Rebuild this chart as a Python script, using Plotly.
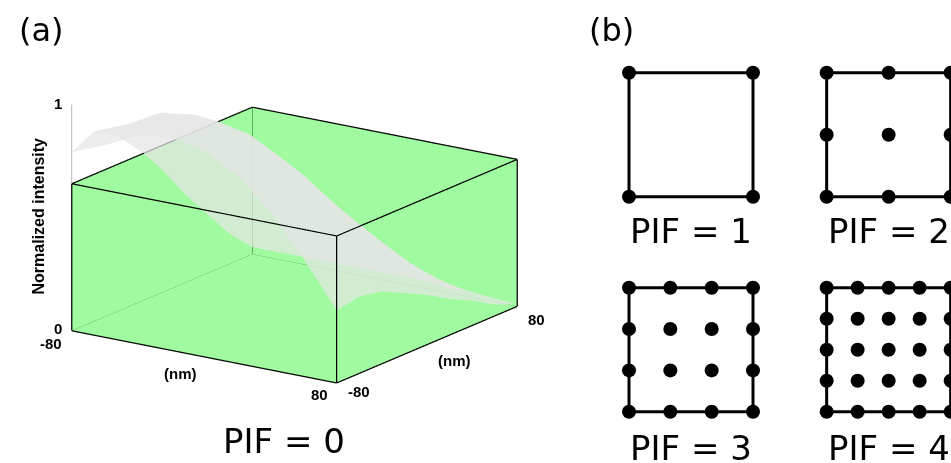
import plotly.graph_objects as go

# ---- panel (a): intensity over one 160 nm pixel ----
x_nm = [-80, -60, -40, -20, 0, 20, 40, 60, 80]
y_nm = [-80, -60, -40, -20, 0, 20, 40, 60, 80]
# normalized intensity; rows follow y_nm, columns follow x_nm
intensity = [
    [0.79, 0.85, 0.92, 0.94, 0.91, 0.83, 0.70, 0.52, 0.32],
    [0.84, 0.90, 0.98, 1.00, 0.97, 0.88, 0.74, 0.55, 0.34],
    [0.78, 0.84, 0.91, 0.93, 0.90, 0.82, 0.69, 0.51, 0.32],
    [0.67, 0.72, 0.78, 0.80, 0.78, 0.70, 0.59, 0.44, 0.27],
    [0.54, 0.58, 0.63, 0.64, 0.62, 0.56, 0.47, 0.35, 0.22],
    [0.39, 0.42, 0.46, 0.47, 0.46, 0.41, 0.35, 0.26, 0.16],
    [0.26, 0.28, 0.30, 0.31, 0.30, 0.27, 0.23, 0.17, 0.11],
    [0.13, 0.14, 0.16, 0.16, 0.16, 0.14, 0.12, 0.09, 0.05],
    [0.03, 0.03, 0.03, 0.03, 0.03, 0.03, 0.02, 0.02, 0.01],
]
box_top = 0.65          # height of the green box
z_ticks = [0, 1]
xy_ticks = [-80, 80]

# ---- panel (b): sampling grids per interpolation factor ----
pif_levels = [1, 2, 3, 4]
pif_cells = [(0, 0), (1, 0), (0, 1), (1, 1)]   # (column, row) of each sketch

GREEN = "#a0fba0"
DARK_GREEN = "#0f5a0f"
TICK = dict(family="Liberation Sans, Arial", size=15, color="black", weight="bold")
TITLE = dict(TICK, size=16)
LABEL = dict(family="DejaVu Sans, Verdana", size=34, color="black")

fig = go.Figure()

# green box: the three far faces, drawn opaque
lo, hi = x_nm[0], x_nm[-1]
ylo, yhi = y_nm[0], y_nm[-1]
cx = [lo, hi, lo, hi, lo, hi, lo, hi]
cy = [ylo, ylo, yhi, yhi, ylo, ylo, yhi, yhi]
cz = [0, 0, 0, 0, box_top, box_top, box_top, box_top]
fig.add_trace(go.Mesh3d(
    x=cx, y=cy, z=cz,
    i=[0, 0, 2, 2, 0, 0], j=[2, 6, 3, 7, 1, 3], k=[6, 4, 7, 6, 3, 2],
    color=GREEN, opacity=1, flatshading=True,
    lighting=dict(ambient=1, diffuse=0, specular=0, roughness=1, fresnel=0),
    hoverinfo="skip", showscale=False,
))

# intensity sheet
fig.add_trace(go.Surface(
    x=x_nm, y=y_nm, z=intensity,
    colorscale=[[0, "rgb(255,255,255)"], [1, "rgb(255,255,255)"]],
    showscale=False, opacity=0.72,
    lighting=dict(ambient=0.9, diffuse=0.25, specular=0.05, roughness=0.9, fresnel=0),
    lightposition=dict(x=-1000, y=-3000, z=6000),
    hoverinfo="skip",
))


def edge_path(pairs):
    xs, ys, zs = [], [], []
    for a, b in pairs:
        xs += [cx[a], cx[b], None]
        ys += [cy[a], cy[b], None]
        zs += [cz[a], cz[b], None]
    return xs, ys, zs


hidden = [(0, 2), (2, 3), (2, 6)]
visible = [(0, 1), (1, 3), (0, 4), (1, 5), (3, 7), (4, 5), (5, 7), (6, 7), (4, 6)]
for pairs, col in ((hidden, DARK_GREEN), (visible, "black")):
    ex, ey, ez = edge_path(pairs)
    fig.add_trace(go.Scatter3d(x=ex, y=ey, z=ez, mode="lines",
                               line=dict(color=col, width=2.5),
                               hoverinfo="skip", showlegend=False))

# vertical intensity axis on the front-left edge
fig.add_trace(go.Scatter3d(x=[lo, lo], y=[ylo, ylo], z=z_ticks, mode="lines",
                           line=dict(color="#8a8a8a", width=1.2),
                           hoverinfo="skip", showlegend=False))

scene_ann = [
    dict(x=lo, y=ylo, z=z_ticks[1], text=str(z_ticks[1]), xshift=-14, yshift=1, font=TICK),
    dict(x=lo, y=ylo, z=z_ticks[0], text=str(z_ticks[0]), xshift=-14, yshift=2, font=TICK),
    dict(x=lo, y=ylo, z=0, text=str(xy_ticks[0]), xshift=-21, yshift=-13, font=TICK),
    dict(x=hi, y=ylo, z=0, text=str(xy_ticks[1]), xshift=-17, yshift=-12, font=TICK),
    dict(x=hi, y=ylo, z=0, text=str(xy_ticks[0]), xshift=22, yshift=-9, font=TICK),
    dict(x=hi, y=yhi, z=0, text=str(xy_ticks[1]), xshift=19, yshift=-13, font=TICK),
    dict(x=0, y=ylo, z=0, text="(nm)", xshift=-24, yshift=-17, font=TICK),
    dict(x=hi, y=0, z=0, text="(nm)", xshift=28, yshift=-16, font=TICK),
    dict(x=lo, y=ylo, z=0.5, text="Normalized intensity", textangle=-90,
         xshift=-33, yshift=2, font=TITLE),
]
for a in scene_ann:
    a.update(showarrow=False)

# panel (b) sketches
COL_STEP, ROW_STEP = 1.594, 1.734
label_drop = [0.279, 0.290]
annotations = []
for n, (c, r) in zip(pif_levels, pif_cells):
    ox, oy = c * COL_STEP, -r * ROW_STEP
    fig.add_trace(go.Scatter(
        x=[ox, ox + 1, ox + 1, ox, ox], y=[oy, oy, oy + 1, oy + 1, oy],
        mode="lines", line=dict(color="black", width=3),
        hoverinfo="skip", showlegend=False, xaxis="x", yaxis="y"))
    px, py = [], []
    for i in range(n + 1):
        for j in range(n + 1):
            px.append(ox + i / n)
            py.append(oy + j / n)
    fig.add_trace(go.Scatter(
        x=px, y=py, mode="markers",
        marker=dict(color="black", size=14, line=dict(width=0)),
        hoverinfo="skip", showlegend=False, xaxis="x", yaxis="y"))
    annotations.append(dict(x=ox + 0.5, y=oy - label_drop[r], xref="x", yref="y",
                            text=f"PIF = {n}", showarrow=False, font=LABEL,
                            xanchor="center", yanchor="middle"))

annotations += [
    dict(x=284 / 951, y=1 - 440.5 / 463, xref="paper", yref="paper", text="PIF = 0",
         showarrow=False, font=LABEL, xanchor="center", yanchor="middle"),
    dict(x=41 / 951, y=1 - 30 / 463, xref="paper", yref="paper", text="(a)",
         showarrow=False, font=dict(LABEL, size=32), xanchor="center", yanchor="middle"),
    dict(x=611 / 951, y=1 - 30 / 463, xref="paper", yref="paper", text="(b)",
         showarrow=False, font=dict(LABEL, size=32), xanchor="center", yanchor="middle"),
]

eye_dir = (0.539, -0.791, 0.289)
eye_len = 1.6
zoom = 1.56   # orthographic scale factor applied through the aspect ratio
fig.update_layout(
    width=951, height=463,
    margin=dict(l=0, r=0, t=0, b=0),
    paper_bgcolor="white", plot_bgcolor="rgba(0,0,0,0)",
    showlegend=False,
    scene=dict(
        domain=dict(x=[0, 589 / 951], y=[1 - 411 / 463, 1]),
        xaxis=dict(range=[lo, hi], autorange=False, visible=False),
        yaxis=dict(range=[ylo, yhi], autorange=False, visible=False),
        zaxis=dict(range=[0, 1], autorange=False, visible=False),
        aspectmode="manual",
        aspectratio=dict(x=1.0 * zoom, y=1.0 * zoom, z=0.737 * zoom),
        camera=dict(eye=dict(x=eye_dir[0] * eye_len, y=eye_dir[1] * eye_len,
                             z=eye_dir[2] * eye_len),
                    up=dict(x=0, y=0, z=1), center=dict(x=0, y=0, z=0),
                    projection=dict(type="orthographic")),
        bgcolor="rgba(0,0,0,0)",
        annotations=scene_ann,
        dragmode=False,
    ),
    xaxis=dict(domain=[0.58, 1], range=[-0.6244, 2.5968], visible=False, fixedrange=True),
    yaxis=dict(domain=[0, 1], range=[-2.1476, 1.5863], visible=False, fixedrange=True),
    annotations=annotations,
)

fig.write_html("out.html", config={"displayModeBar": False})
